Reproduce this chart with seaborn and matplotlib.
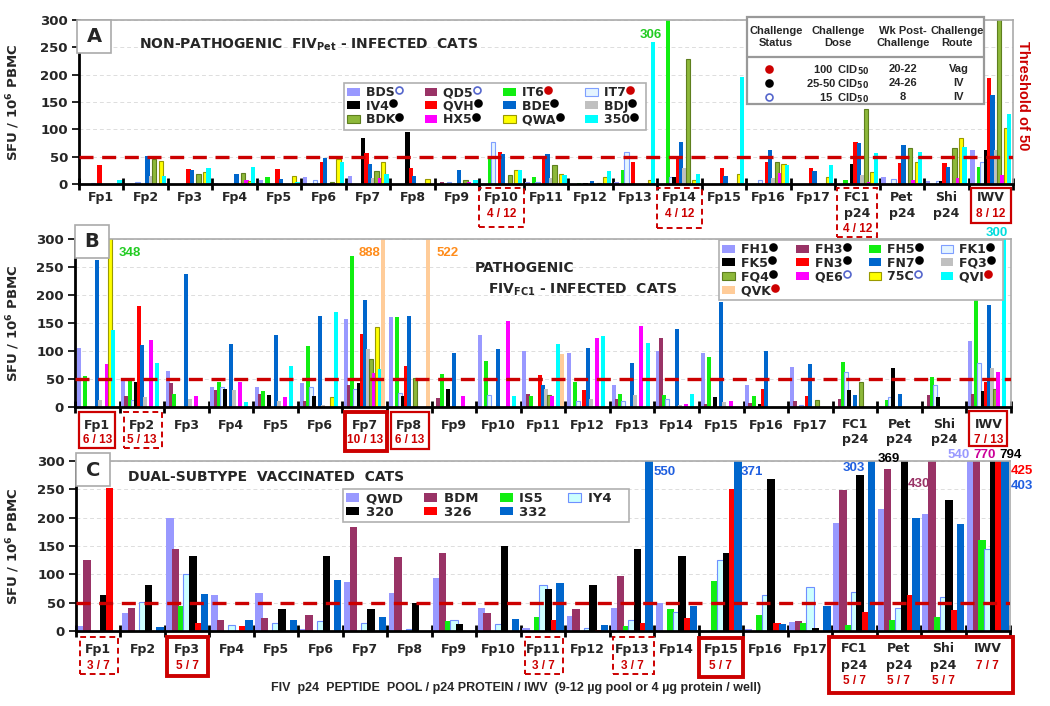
import numpy as np
import pandas as pd
import matplotlib
matplotlib.use('Agg')
import matplotlib.pyplot as plt
import matplotlib.transforms as mtransforms
from matplotlib.patches import Patch, Rectangle
from matplotlib.lines import Line2D
import seaborn as sns

#=============================================================================
# Data: SFU / 10^6 PBMC per peptide pool (rows) and cat (columns)
pools = ['Fp%d' % i for i in range(1, 18)] + ['FC1 p24', 'Pet p24', 'Shi p24', 'IWV']
tick_main = ['Fp%d' % i for i in range(1, 18)] + ['FC1', 'Pet', 'Shi', 'IWV']
tick_sub = [''] * 17 + ['p24', 'p24', 'p24', '']

cats_a = ['BDS', 'QD5', 'IT6', 'IT7', 'IV4', 'QVH', 'BDE', 'BDJ', 'BDK', 'HX5', 'QWA', '350']
sfu_a = [
    [0, 0, 0, 2, 0, 34, 0, 0, 0, 0, 0, 8],
    [0, 0, 0, 3, 0, 0, 52, 14, 46, 0, 42, 14],
    [0, 0, 0, 0, 0, 28, 26, 0, 18, 0, 22, 30],
    [2, 0, 0, 0, 0, 0, 18, 0, 21, 8, 5, 32],
    [8, 0, 12, 0, 0, 28, 10, 0, 0, 0, 14, 4],
    [12, 0, 0, 8, 0, 41, 48, 0, 4, 2, 45, 41],
    [14, 0, 0, 0, 85, 57, 37, 11, 23, 11, 40, 18],
    [0, 0, 0, 0, 95, 30, 14, 0, 0, 0, 9, 0],
    [0, 4, 0, 3, 0, 0, 26, 0, 8, 4, 0, 8],
    [0, 0, 49, 76, 0, 58, 54, 0, 17, 0, 26, 26],
    [4, 0, 12, 3, 0, 50, 54, 11, 34, 0, 19, 16],
    [0, 0, 2, 0, 2, 0, 5, 0, 2, 0, 12, 23],
    [3, 0, 26, 58, 0, 41, 0, 0, 0, 0, 8, 260],
    [0, 0, 306, 12, 12, 50, 76, 30, 229, 0, 8, 18],
    [0, 0, 0, 0, 0, 30, 14, 0, 0, 0, 18, 196],
    [0, 0, 0, 8, 0, 41, 63, 11, 41, 20, 37, 35],
    [0, 0, 0, 0, 0, 30, 23, 0, 0, 0, 12, 35],
    [0, 0, 8, 0, 37, 77, 75, 17, 137, 3, 22, 57],
    [12, 0, 0, 10, 0, 38, 71, 0, 66, 8, 40, 59],
    [6, 0, 0, 6, 5, 38, 31, 0, 66, 11, 85, 68],
    [63, 0, 31, 41, 62, 193, 162, 63, 320, 16, 102, 128],
]
status_a = ['o', 'o', 'r', 'r', 'k', 'k', 'k', 'k', 'k', 'k', 'k', 'k']
counts_a = {9: '4 / 12', 13: '4 / 12', 17: '4 / 12', 20: '8 / 12'}

cats_b = ['FH1', 'FH3', 'FH5', 'FK1', 'FK5', 'FN3', 'FN7', 'FQ3', 'FQ4', 'QE6', '75C', 'QVI', 'QVK']
sfu_b = [
    [106, 0, 55, 0, 0, 0, 262, 12, 0, 76, 348, 137, 0],
    [46, 19, 51, 12, 45, 181, 111, 17, 0, 119, 0, 78, 0],
    [64, 43, 24, 0, 0, 0, 237, 14, 0, 19, 0, 0, 0],
    [36, 30, 45, 36, 33, 0, 112, 30, 0, 45, 0, 9, 0],
    [36, 24, 28, 0, 22, 0, 128, 10, 0, 18, 0, 73, 0],
    [43, 11, 109, 36, 20, 0, 163, 3, 0, 0, 17, 169, 0],
    [157, 39, 269, 32, 42, 130, 191, 103, 85, 60, 142, 67, 888],
    [160, 0, 160, 25, 19, 74, 163, 0, 51, 0, 0, 0, 522],
    [0, 16, 59, 0, 32, 0, 97, 0, 0, 19, 0, 0, 0],
    [129, 0, 82, 21, 0, 0, 103, 0, 0, 154, 0, 19, 0],
    [100, 24, 20, 0, 0, 57, 39, 32, 22, 20, 0, 112, 94],
    [96, 0, 45, 10, 0, 30, 106, 14, 0, 124, 0, 127, 0],
    [39, 14, 23, 10, 0, 0, 79, 22, 0, 145, 0, 114, 0],
    [100, 123, 22, 14, 0, 0, 139, 3, 0, 5, 0, 23, 0],
    [96, 6, 90, 0, 18, 0, 188, 9, 0, 10, 0, 0, 0],
    [39, 7, 19, 0, 5, 32, 100, 0, 0, 0, 0, 0, 0],
    [71, 11, 0, 4, 0, 19, 76, 0, 12, 0, 0, 0, 0],
    [0, 15, 81, 63, 30, 0, 21, 0, 44, 0, 0, 0, 0],
    [0, 0, 12, 18, 69, 0, 24, 0, 0, 0, 0, 0, 0],
    [0, 21, 54, 39, 18, 0, 0, 0, 0, 0, 0, 0, 0],
    [118, 24, 208, 79, 28, 45, 183, 70, 32, 63, 0, 300, 0],
]
status_b = ['k', 'k', 'k', 'k', 'k', 'k', 'k', 'k', 'k', 'o', 'o', 'r', 'r']
counts_b = {0: '6 / 13', 1: '5 / 13', 6: '10 / 13', 7: '6 / 13', 20: '7 / 13'}

cats_c = ['QWD', 'BDM', 'IS5', 'IY4', '320', '326', '332']
sfu_c = [
    [8, 126, 0, 0, 64, 253, 0],
    [32, 41, 0, 52, 82, 0, 7],
    [200, 144, 44, 100, 132, 15, 66],
    [64, 20, 0, 10, 0, 9, 19],
    [67, 23, 0, 15, 38, 0, 19],
    [4, 29, 0, 17, 132, 0, 90],
    [87, 183, 0, 15, 38, 0, 25],
    [67, 130, 0, 4, 49, 0, 0],
    [94, 138, 18, 20, 13, 0, 0],
    [41, 32, 0, 13, 150, 0, 21],
    [5, 0, 24, 82, 75, 20, 84],
    [27, 38, 0, 5, 82, 2, 10],
    [41, 97, 8, 20, 144, 15, 550],
    [49, 0, 38, 34, 132, 23, 44],
    [0, 0, 88, 126, 138, 250, 371],
    [4, 0, 28, 64, 269, 15, 13],
    [16, 17, 15, 77, 6, 0, 44],
    [190, 248, 10, 68, 275, 34, 303],
    [215, 286, 20, 41, 369, 64, 200],
    [207, 430, 24, 60, 231, 37, 188],
    [540, 770, 160, 144, 794, 425, 403],
]
status_c = [''] * 7
counts_c = {0: '3 / 7', 2: '5 / 7', 10: '3 / 7', 12: '3 / 7', 14: '5 / 7',
            17: '5 / 7', 18: '5 / 7', 19: '5 / 7', 20: '7 / 7'}

#=============================================================================
# Colours (fill, edge)
LAV = ('#9999FF', None)
MAR = ('#993366', None)
GRN = ('#11EE11', None)
HOL = ('#E4F4FF', '#7F9FFF')
BLK = ('#000000', None)
RED = ('#FF0000', None)
BLU = ('#0066CC', None)
GRY = ('#C0C0C0', None)
OLV = ('#8DB83A', '#5E7F1E')
MAG = ('#FF00FF', None)
YEL = ('#FFFF00', '#9A9A00')
CYN = ('#00FFFF', None)
PEA = ('#FFCC99', None)
style_a = dict(zip(cats_a, [LAV, MAR, GRN, HOL, BLK, RED, BLU, GRY, OLV, MAG, YEL, CYN]))
style_b = dict(zip(cats_b, [LAV, MAR, GRN, HOL, BLK, RED, BLU, GRY, OLV, MAG, YEL, CYN, PEA]))
style_c = dict(zip(cats_c, [LAV, MAR, GRN, ('#CCFFFF', '#6F8FFF'), BLK, RED, BLU]))
dot_colors = {'k': ('black', 'black'), 'r': ('#CC0000', '#CC0000'), 'o': ('white', '#5566CC')}
TXT_RED = '#CC0000'

sns.set_theme(style='white')
plt.rcParams['font.family'] = ['DejaVu Sans']
plt.rcParams['font.weight'] = 'bold'
plt.rcParams['axes.labelweight'] = 'bold'
plt.rcParams['mathtext.default'] = 'bf'

W, H = 1050, 706
fig = plt.figure(figsize=(W / 100, H / 100), dpi=100)


def px_rect(l, t, r, b):
    return [l / W, 1 - b / H, (r - l) / W, (b - t) / H]


def fig_box(l, t, r, b, **kw):
    fig.add_artist(Rectangle((l / W, 1 - b / H), (r - l) / W, (b - t) / H,
                             transform=fig.transFigure, **kw))


def draw_panel(rect, cats, sfu, styles):
    ax = fig.add_axes(px_rect(*rect))
    df = pd.DataFrame(sfu, columns=cats)
    df['pool'] = pools
    df = df.melt(id_vars='pool', var_name='cat', value_name='sfu')
    sns.barplot(data=df, x='pool', y='sfu', hue='cat', order=pools, hue_order=cats,
                palette={c: styles[c][0] for c in cats}, saturation=1, width=0.9,
                errorbar=None, legend=False, ax=ax, zorder=2)
    for cont, c in zip(ax.containers, cats):
        fc, ec = styles[c]
        for bar in cont:
            bar.set_facecolor(fc)
            bar.set_edgecolor(ec if ec else fc)
            bar.set_linewidth(0.8 if ec else 0)
            # slightly overlapping bars, as in the original
            w = bar.get_width()
            bar.set_x(bar.get_x() - 0.15 * w)
            bar.set_width(1.3 * w)
    ax.set_xlim(-0.5, 20.5)
    ax.set_ylim(0, 300)
    ax.set_yticks(np.arange(0, 301, 50))
    ax.set_xticks(np.arange(-0.5, 21, 1.0))
    ax.set_xticklabels([])
    ax.tick_params(axis='x', direction='inout', length=9, width=2, color='black', bottom=True)
    ax.tick_params(axis='y', direction='out', length=5, width=1.2, color='black',
                   labelsize=9.5, pad=3, left=True)
    ax.yaxis.grid(True, color='#DDDDDD', ls=(0, (4, 3)), lw=0.7)
    ax.set_axisbelow(True)
    for s in ['left', 'bottom']:
        ax.spines[s].set_color('black')
        ax.spines[s].set_linewidth(2)
    for s in ['top', 'right']:
        ax.spines[s].set_color('#AAAAAA')
        ax.spines[s].set_linewidth(1.2)
    ax.axhline(50, color='#CC0000', ls=(0, (4.2, 2.6)), lw=2.4, zorder=6)
    ax.set_xlabel('')
    ax.set_ylabel('SFU / 10$^{6}$ PBMC', fontsize=9.5)
    ax.yaxis.set_label_coords(-(rect[0] - 22) / (rect[2] - rect[0]), 0.5)
    return ax


def tick_rows(ax, rows, counts):
    tr = mtransforms.blended_transform_factory(ax.transData, fig.transFigure)
    for i, (m, s) in enumerate(zip(tick_main, tick_sub)):
        ax.text(i, 1 - rows[0] / H, m, transform=tr, ha='center', va='center', fontsize=9)
        if s:
            ax.text(i, 1 - rows[1] / H, s, transform=tr, ha='center', va='center', fontsize=9)
    for i, c in counts.items():
        y = rows[2] if tick_sub[i] else rows[1]
        ax.text(i, 1 - y / H, c, transform=tr, ha='center', va='center', fontsize=8.5,
                color=TXT_RED, family='Liberation Sans')


def count_box(ax, i0, i1, top, bot, kind):
    tr = mtransforms.blended_transform_factory(ax.transData, fig.transFigure)
    lw = {'thin': 1.6, 'thick': 2.8, 'dash': 1.4}[kind]
    ls = (0, (3, 2)) if kind == 'dash' else '-'
    ax.add_patch(Rectangle((i0, 1 - bot / H), i1 - i0, (bot - top) / H, transform=tr,
                           fill=False, ec=TXT_RED, lw=lw, ls=ls, clip_on=False))


def make_legend(ax, cats, styles, anchor, fs, colsp):
    handles = []
    for c in cats:
        fc, ec = styles[c]
        handles.append(Patch(facecolor=fc, edgecolor=ec if ec else fc, lw=0.8 if ec else 0,
                             label=c + '   '))
    order = [k for j in range(4) for k in range(j, len(cats), 4)]
    leg = fig.legend([handles[k] for k in order], [handles[k].get_label() for k in order],
                     loc='upper left', bbox_to_anchor=(anchor[0] / W, 1 - anchor[1] / H),
                     ncol=4, fontsize=fs, frameon=True, fancybox=False, edgecolor='#B0B0B0',
                     framealpha=1, borderpad=0.25, labelspacing=0.05, handlelength=1.0,
                     handleheight=0.6, handletextpad=0.5, columnspacing=colsp,
                     borderaxespad=0, prop={'weight': 'bold', 'size': fs})
    leg.get_frame().set_linewidth(1.2)
    return leg, [cats[k] for k in order]


def panel_letter(l, t, s):
    fig_box(l, t, l + 34, t + 33, fc='white', ec='#AAAAAA', lw=1.2, zorder=20)
    fig.text((l + 17) / W, 1 - (t + 17) / H, s, ha='center', va='center', fontsize=14,
             zorder=21)


def value_labels(ax, items):
    for x, y, s, c in items:
        ax.text(x, y, s, color=c, fontsize=9.5, ha='center', va='center',
                family='Liberation Sans')


#=============================================================================
# Panel A
ax_a = draw_panel((79, 20, 1013, 184), cats_a, sfu_a, style_a)
tick_rows(ax_a, (198, 214, 229), counts_a)
count_box(ax_a, 8.5, 9.5, 188, 227, 'dash')
count_box(ax_a, 12.5, 13.5, 188, 228, 'dash')
count_box(ax_a, 16.55, 17.45, 188, 237, 'dash')
count_box(ax_a, 19.55, 20.45, 188, 223, 'thin')
panel_letter(77, 20, 'A')
fig.text(139 / W, 1 - 45 / H, 'NON-PATHOGENIC  FIV$_{Pet}$ - INFECTED  CATS', fontsize=10,
         va='center')
value_labels(ax_a, [(12.35, 272, '306', '#22CC22')])
leg_a, lab_a = make_legend(ax_a, cats_a, style_a, (344, 83), 9, 1.3)

# challenge table
fig_box(747, 17, 984, 104, fc='white', ec='#999999', lw=1.6, zorder=10)
fig.add_artist(Line2D([747 / W, 984 / W], [1 - 57 / H, 1 - 57 / H], transform=fig.transFigure,
                      color='#999999', lw=1.6, zorder=11))
tkw = dict(fontsize=8, family='Liberation Sans', ha='center', va='center', zorder=12,
           linespacing=1.25)
for x, s in [(776, 'Challenge\nStatus'), (838, 'Challenge\nDose'),
             (903, 'Wk Post-\nChallenge'), (957, 'Challenge\nRoute')]:
    fig.text(x / W, 1 - 37 / H, s, **tkw)
for y, st, dose, wk, route in [(69, 'r', '100  CID$_{50}$', '20-22', 'Vag'),
                              (83, 'k', '25-50 CID$_{50}$', '24-26', 'IV'),
                              (97, 'o', '15  CID$_{50}$', '8', 'IV')]:
    fc, ec = dot_colors[st]
    fig.add_artist(Line2D([769 / W], [1 - y / H], marker='o', ms=5, mfc=fc, mec=ec, mew=1.2,
                          transform=fig.transFigure, zorder=12))
    fig.text(869 / W, 1 - (y + 1) / H, dose, fontsize=8, family='Liberation Sans', ha='right',
             va='center', zorder=12)
    fig.text(903 / W, 1 - y / H, wk, **tkw)
    fig.text(959 / W, 1 - y / H, route, **tkw)
fig.text(1023 / W, 1 - 96 / H, 'Threshold of 50', rotation=270, color=TXT_RED, fontsize=10.5,
         family='Liberation Sans', ha='center', va='center')

#=============================================================================
# Panel B
ax_b = draw_panel((75, 239, 1011, 407), cats_b, sfu_b, style_b)
tick_rows(ax_b, (425, 440, 455), counts_b)
count_box(ax_b, -0.42, 0.4, 412, 448, 'thin')
count_box(ax_b, 0.6, 1.45, 412, 448, 'dash')
count_box(ax_b, 5.55, 6.5, 412, 451, 'thick')
count_box(ax_b, 6.6, 7.45, 412, 449, 'thin')
count_box(ax_b, 19.55, 20.42, 411, 446, 'thin')
panel_letter(75, 225, 'B')
fig.text(475 / W, 1 - 268 / H, 'PATHOGENIC', fontsize=10, va='center')
fig.text(488 / W, 1 - 290 / H, 'FIV$_{FC1}$ - INFECTED  CATS', fontsize=10, va='center')
value_labels(ax_b, [(0.73, 275, '348', '#22CC22'), (6.1, 275, '888', '#FF8C1A'),
                    (7.85, 275, '522', '#FF8C1A'), (20.19, 311, '300', '#00DDDD')])
leg_b, lab_b = make_legend(ax_b, cats_b, style_b, (719, 240), 9, 1.0)

#=============================================================================
# Panel C
ax_c = draw_panel((76, 461, 1010, 631), cats_c, sfu_c, style_c)
tick_rows(ax_c, (649, 666, 681), counts_c)
count_box(ax_c, -0.42, 0.45, 637, 674, 'dash')
count_box(ax_c, 1.55, 2.47, 637, 676, 'thick')
count_box(ax_c, 9.6, 10.45, 637, 674, 'dash')
count_box(ax_c, 11.57, 12.5, 637, 674, 'dash')
count_box(ax_c, 13.5, 14.5, 638, 677, 'thick')
count_box(ax_c, 16.43, 20.57, 637, 693, 'thick')
panel_letter(76, 453, 'C')
fig.text(128 / W, 1 - 477 / H, 'DUAL-SUBTYPE  VACCINATED  CATS', fontsize=10, va='center')
value_labels(ax_c, [(12.74, 281, '550', '#1F5FE0'), (14.7, 281, '371', '#1F5FE0'),
                    (17.0, 288, '303', '#1F5FE0'), (17.78, 304, '369', 'black'),
                    (18.45, 259, '430', '#993366'), (19.35, 310, '540', '#9999FF'),
                    (19.92, 310, '770', '#CC0099'), (20.52, 310, '794', 'black'),
                    (20.77, 282, '425', '#FF0000'), (20.77, 256, '403', '#1F5FE0')])
leg_c, lab_c = make_legend(ax_c, cats_c, style_c, (343, 489), 9.5, 0.55)
fig.text(516 / W, 1 - 688 / H,
         'FIV  p24  PEPTIDE  POOL / p24 PROTEIN / IWV  (9-12 \u00b5g pool or 4 \u00b5g protein / well)',
         fontsize=9, family='Liberation Sans', ha='center', va='center')

#=============================================================================
# status dots after legend names
fig.canvas.draw()
renderer = fig.canvas.get_renderer()
for leg, labs, cats, status in [(leg_a, lab_a, cats_a, status_a), (leg_b, lab_b, cats_b, status_b)]:
    for t, lab in zip(leg.get_texts(), labs):
        st = status[cats.index(lab)]
        if not st:
            continue
        bb = t.get_window_extent(renderer)
        w, h, d = renderer.get_text_width_height_descent(lab, t.get_fontproperties(), ismath=False)
        x = bb.x0 + w + 4
        y = bb.y0 + bb.height * 0.72
        fc, ec = dot_colors[st]
        fig.add_artist(Line2D([x / fig.bbox.width], [y / fig.bbox.height], marker='o', ms=5,
                              mfc=fc, mec=ec, mew=1.2, transform=fig.transFigure, zorder=30))

plt.savefig('out.png', dpi=100)
